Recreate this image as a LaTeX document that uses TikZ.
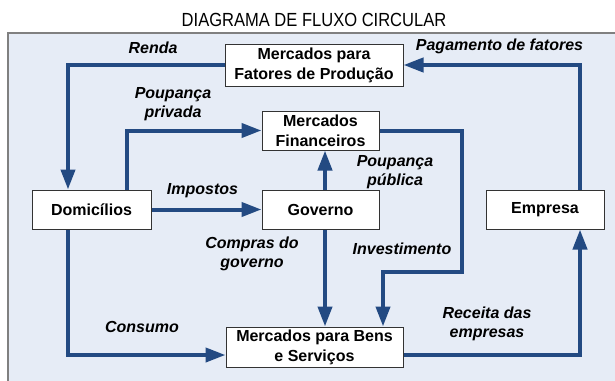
\documentclass[tikz,border=0pt]{standalone}
\usepackage{graphicx}
\usepackage{fontspec}
\setmainfont{Liberation Sans}
\usetikzlibrary{arrows.meta}
\definecolor{flowblue}{RGB}{35,74,130}
\definecolor{panelbg}{RGB}{230,236,246}
\definecolor{panelborder}{RGB}{128,128,128}
\begin{document}
\begin{tikzpicture}[x=1pt,y=-1pt,
  box/.style={draw=black!80, line width=1pt, fill=white, font=\bfseries\fontsize{16}{20}\selectfont, align=center, inner sep=0pt},
  flow/.style={draw=flowblue, line width=4pt, -{Triangle[length=20pt,width=14pt]}},
  lbl/.style={font=\bfseries\itshape\fontsize{16}{19}\selectfont, align=center, inner sep=0pt}]
\useasboundingbox (0,0) rectangle (615,380);
\fill[white] (0,0) rectangle (615,380);
\draw[panelborder, line width=1.5pt, fill=panelbg] (8,33) rectangle (640,400);
\node[font=\fontsize{19}{22}\selectfont, anchor=base, inner sep=0pt] (title) at (314,27) {\scalebox{0.87}[1]{DIAGRAMA DE FLUXO CIRCULAR}};

\node[box, minimum width=178pt, minimum height=42pt] (fat) at (314,65) {Mercados para\\Fatores de Produção};
\node[box, minimum width=117pt, minimum height=39pt] (fin) at (320.5,130.5) {Mercados\\Financeiros};
\node[box, minimum width=119pt, minimum height=39pt] (dom) at (91.5,209.5) {Domicílios};
\node[box, minimum width=117pt, minimum height=39pt] (gov) at (320.5,209.5) {Governo};
\node[box, minimum width=118pt, minimum height=39pt] (emp) at (545,209.5) {Empresa};
\node[box, minimum width=177pt, minimum height=40pt] (bens) at (314.5,347) {Mercados para Bens\\e Serviços};

\coordinate (d1) at ([xshift=-23.5pt]dom.north);
\coordinate (d2) at ([xshift=35.5pt]dom.north);
\coordinate (d3) at ([xshift=-23.5pt]dom.south);
\coordinate (g1) at ([xshift=4.5pt]gov.north);
\coordinate (g2) at ([xshift=4.5pt]gov.south);
\coordinate (b2) at ([xshift=68.5pt]bens.north);
\coordinate (b3) at ([yshift=-8pt]bens.west);
\coordinate (b4) at ([yshift=-8pt]bens.east);
\coordinate (e1) at ([xshift=35pt]emp.north);
\coordinate (e2) at ([xshift=35pt]emp.south);
\coordinate (i1) at (462,272);

\draw[flow] (fat.west) -| (d1);
\draw[flow] (e1) |- (fat.east);
\draw[flow] (d2) |- (fin.west);
\draw[flow] (dom.east) -- (gov.west);
\draw[flow] (g1) -- (g1 |- fin.south);
\draw[flow] (fin.east) -| (i1) -| (b2);
\draw[flow] (g2) -- (g2 |- bens.north);
\draw[flow] (d3) |- (b3);
\draw[flow] (b4) -| (e2);

\node[lbl, anchor=base] (renda) at (153,53) {Renda};
\node[lbl, anchor=base] (pag) at (499.5,50) {Pagamento de fatores};
\node[lbl] (ppriv) at (173,104) {Poupança\\privada};
\node[lbl, anchor=base] (imp) at (202.5,194) {Impostos};
\node[lbl] (ppub) at (395,172) {Poupança\\pública};
\node[lbl] (compras) at (252,254) {Compras do\\governo};
\node[lbl, anchor=base] (inv) at (402,254) {Investimento};
\node[lbl, anchor=base] (cons) at (142,332) {Consumo};
\node[lbl] (rec) at (487,324) {Receita das\\empresas};
\end{tikzpicture}
\end{document}
